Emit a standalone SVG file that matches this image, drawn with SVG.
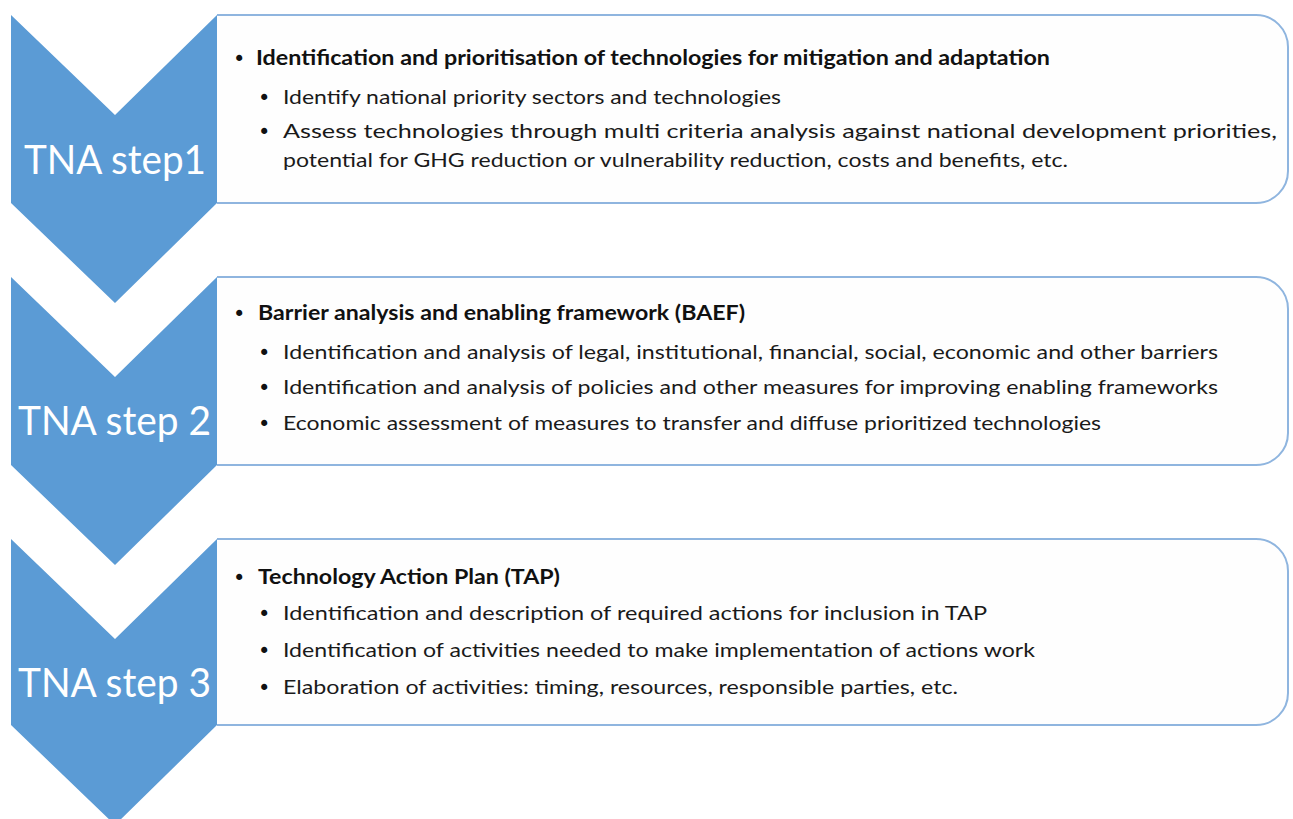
<svg xmlns="http://www.w3.org/2000/svg" width="1293" height="819" viewBox="0 0 1293 819">
<style>
.box{fill:#fefefe;stroke:#8fb5df;stroke-width:2}
.chev{fill:#5b9bd5}
.step{font-family:Lato,"Open Sans",sans-serif;font-size:40px;fill:#ffffff}
.h{font-family:Lato,"Open Sans",sans-serif;font-size:20px;font-weight:bold;fill:#111111}
.t{font-family:Lato,"Open Sans",sans-serif;font-size:20px;fill:#1a1a1a}
.b{font-family:"DejaVu Sans",sans-serif;font-size:21px;fill:#111111}
</style>
<rect width="1293" height="819" fill="#ffffff"/>
<g id="step1">
<path class="box" d="M217,15 H1256 A32,32 0 0 1 1288,47 V171 A32,32 0 0 1 1256,203 H217"/>
<path class="chev" d="M11,15 L115,115 L217,15 L217,203 L115,303 L11,203 Z"/>
<text class="step" x="24" y="174" textLength="182" lengthAdjust="spacingAndGlyphs">TNA step1</text>
<text class="b" x="233" y="66">•</text>
<text class="h" x="256" y="65" textLength="794" lengthAdjust="spacingAndGlyphs">Identification and prioritisation of technologies for mitigation and adaptation</text>
<text class="b" x="258" y="105">•</text>
<text class="t" x="283" y="104" textLength="498" lengthAdjust="spacingAndGlyphs">Identify national priority sectors and technologies</text>
<text class="b" x="258" y="139">•</text>
<text class="t" x="283" y="138" textLength="994" lengthAdjust="spacingAndGlyphs">Assess technologies through multi criteria analysis against national development priorities,</text>
<text class="t" x="283" y="167" textLength="785" lengthAdjust="spacingAndGlyphs">potential for GHG reduction or vulnerability reduction, costs and benefits, etc.</text>
</g>
<g id="step2">
<path class="box" d="M217,277 H1256 A32,32 0 0 1 1288,309 V433 A32,32 0 0 1 1256,465 H217"/>
<path class="chev" d="M11,277 L115,377 L217,277 L217,465 L115,565 L11,465 Z"/>
<text class="step" x="18" y="435" textLength="193" lengthAdjust="spacingAndGlyphs">TNA step 2</text>
<text class="b" x="233" y="321">•</text>
<text class="h" x="258" y="320" textLength="487" lengthAdjust="spacingAndGlyphs">Barrier analysis and enabling framework (BAEF)</text>
<text class="b" x="258" y="360">•</text>
<text class="t" x="283" y="359" textLength="935" lengthAdjust="spacingAndGlyphs">Identification and analysis of legal, institutional, financial, social, economic and other barriers</text>
<text class="b" x="258" y="395">•</text>
<text class="t" x="283" y="394" textLength="935" lengthAdjust="spacingAndGlyphs">Identification and analysis of policies and other measures for improving enabling frameworks</text>
<text class="b" x="258" y="431">•</text>
<text class="t" x="283" y="430" textLength="818" lengthAdjust="spacingAndGlyphs">Economic assessment of measures to transfer and diffuse prioritized technologies</text>
</g>
<g id="step3">
<path class="box" d="M217,539 H1256 A32,32 0 0 1 1288,571 V693 A32,32 0 0 1 1256,725 H217"/>
<path class="chev" d="M11,539 L115,639 L217,539 L217,725 L115,825 L11,725 Z"/>
<text class="step" x="18" y="697" textLength="193" lengthAdjust="spacingAndGlyphs">TNA step 3</text>
<text class="b" x="233" y="585">•</text>
<text class="h" x="258" y="584" textLength="302" lengthAdjust="spacingAndGlyphs">Technology Action Plan (TAP)</text>
<text class="b" x="258" y="621">•</text>
<text class="t" x="283" y="620" textLength="704" lengthAdjust="spacingAndGlyphs">Identification and description of required actions for inclusion in TAP</text>
<text class="b" x="258" y="658">•</text>
<text class="t" x="283" y="657" textLength="752" lengthAdjust="spacingAndGlyphs">Identification of activities needed to make implementation of actions work</text>
<text class="b" x="258" y="695">•</text>
<text class="t" x="283" y="694" textLength="675" lengthAdjust="spacingAndGlyphs">Elaboration of activities: timing, resources, responsible parties, etc.</text>
</g>
<g id="connectors"/>
</svg>
